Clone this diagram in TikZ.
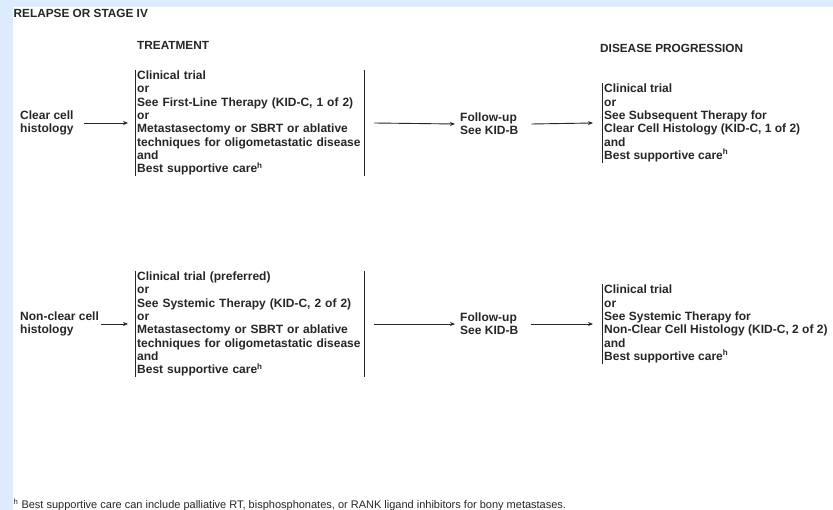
\documentclass[tikz,border=0pt]{standalone}
\usepackage{fontspec}
\setmainfont{Liberation Sans}
\usetikzlibrary{arrows.meta,positioning}
\definecolor{pagebg}{RGB}{221,236,252}
\definecolor{ink}{RGB}{38,38,38}

\begin{document}
\begin{tikzpicture}[x=1pt,y=-1pt,
  t/.style={align=left,anchor=west,inner sep=0pt,text=ink,font=\bfseries\fontsize{12}{13.3}\selectfont},
  bk/.style={t,inner xsep=2pt,inner ysep=1pt},
  hd/.style={anchor=base west,inner sep=0pt,text=ink,font=\bfseries\fontsize{11.8}{13}\selectfont},
  ln/.style={draw=ink,line width=0.9pt},
  >={Stealth[length=5pt,width=4pt]}]
\useasboundingbox (0,0) rectangle (833,510);
\fill[pagebg] (0,0) rectangle (833,510);
\fill[white] (13,7) rectangle (833,510);

% headings
\node[hd] (rel) at (13.5,17.5) {RELAPSE OR STAGE IV};
\node[hd] (trt) at (137,49.5) {TREATMENT};
\node[hd] (dis) at (600,52.5) {DISEASE PROGRESSION};

% clear cell
\node[t] (cc) at (20,123) {Clear cell\\histology};
\node[bk,text width=225pt] (tx1) at (135,123) {Clinical trial\\or\\See First-Line Therapy (KID-C, 1 of 2)\\or\\Metastasectomy or SBRT or ablative\\techniques for oligometastatic disease\\and\\Best supportive care\textsuperscript{h}};
\node[t] (fu1) at (460,124) {Follow-up\\See KID-B};
\node[bk] (dp1) at (602,123) {Clinical trial\\or\\See Subsequent Therapy for\\Clear Cell Histology (KID-C, 1 of 2)\\and\\Best supportive care\textsuperscript{h}};
\draw[ln] (tx1.north west) -- (tx1.south west);
\draw[ln] (tx1.north east) -- (tx1.south east);
\draw[ln] (dp1.north west) -- (dp1.south west);
\draw[ln,->] ([xshift=10pt]cc.east) -- ([xshift=-7pt]tx1.west);
\draw[ln,->] ([xshift=10pt]tx1.east) -- ([xshift=-5pt]fu1.west);
\draw[ln,->] ([xshift=13pt]fu1.east) -- ([xshift=-9pt]dp1.west);

% non-clear cell
\node[t] (nc) at (20,324) {Non-clear cell\\histology};
\node[bk,text width=225pt] (tx2) at (135,324) {Clinical trial (preferred)\\or\\See Systemic Therapy (KID-C, 2 of 2)\\or\\Metastasectomy or SBRT or ablative\\techniques for oligometastatic disease\\and\\Best supportive care\textsuperscript{h}};
\node[t] (fu2) at (460,324) {Follow-up\\See KID-B};
\node[bk] (dp2) at (602,324) {Clinical trial\\or\\See Systemic Therapy for\\Non-Clear Cell Histology (KID-C, 2 of 2)\\and\\Best supportive care\textsuperscript{h}};
\draw[ln] (tx2.north west) -- (tx2.south west);
\draw[ln] (tx2.north east) -- (tx2.south east);
\draw[ln] (dp2.north west) -- (dp2.south west);
\draw[ln,->] ([xshift=2pt]nc.east) -- ([xshift=-7pt]tx2.west);
\draw[ln,->] ([xshift=10pt]tx2.east) -- ([xshift=-5pt]fu2.west);
\draw[ln,->] ([xshift=13pt]fu2.east) -- ([xshift=-9pt]dp2.west);

% footnote
\node[anchor=base west,inner sep=0pt,text=ink,font=\fontsize{11}{12}\selectfont] (fn) at (13.5,508.5) {\textsuperscript{h} Best supportive care can include palliative RT, bisphosphonates, or RANK ligand inhibitors for bony metastases.};
\end{tikzpicture}
\end{document}
